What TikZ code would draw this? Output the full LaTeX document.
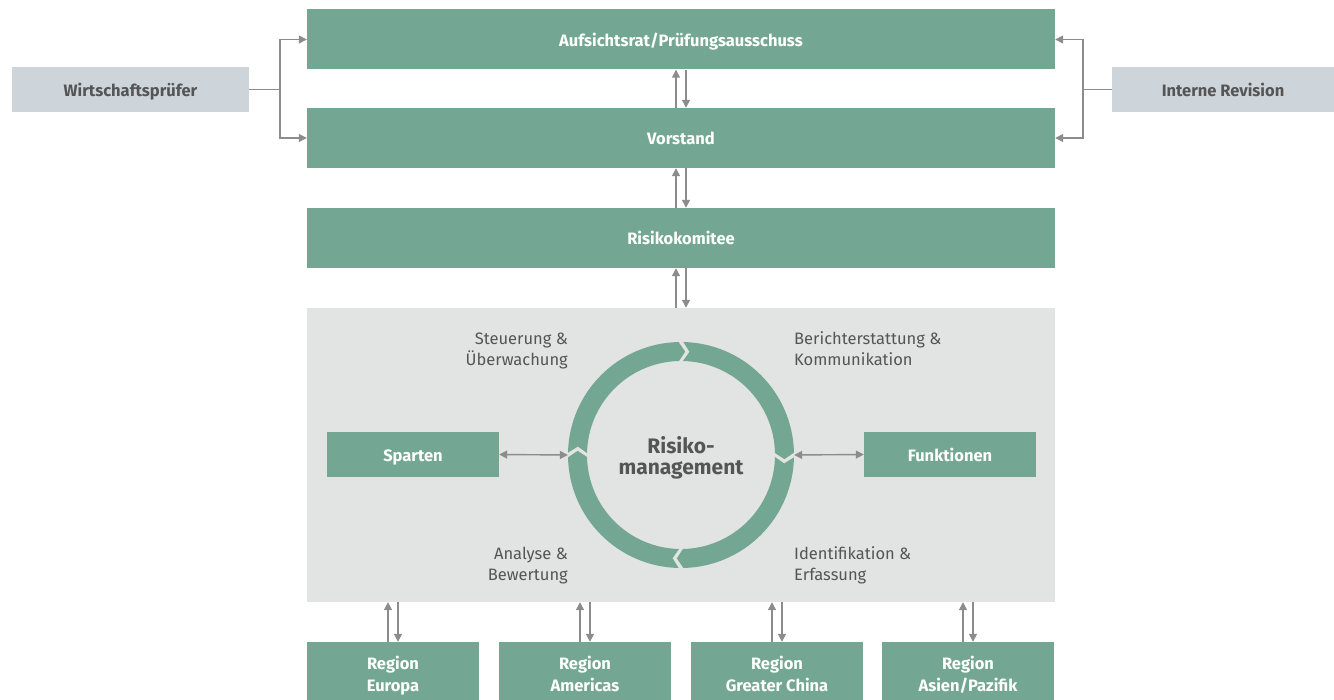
\documentclass[tikz,border=0pt]{standalone}
\usepackage{fontspec}
\setmainfont{Fira Sans}
\usetikzlibrary{arrows.meta,calc}

\definecolor{riskgreen}{RGB}{115,167,148}
\definecolor{areagray}{RGB}{226,227,227}
\definecolor{sidegray}{RGB}{205,212,218}
\definecolor{linegray}{RGB}{140,140,140}
\definecolor{textgray}{RGB}{85,85,85}

\begin{document}
\begin{tikzpicture}[x=1pt, y=-1pt,
    greenbox/.style={fill=riskgreen, text=white, inner sep=0pt, align=center,
        font=\fontsize{16.5}{22}\selectfont\bfseries},
    box/.style={greenbox, text height=15pt, text depth=1.5pt},
    sidebox/.style={fill=sidegray, text=textgray, inner sep=0pt, text height=15pt, text depth=1.5pt,
        minimum height=45pt, font=\fontsize{16.5}{20}\selectfont\bfseries},
    tag/.style={text=textgray, inner sep=0pt, font=\fontsize{16.5}{21}\selectfont},
    conn/.style={draw=linegray, line width=1.4pt},
    tip/.style={conn, -{Triangle[length=8pt,width=8pt]}},
    both/.style={conn, {Triangle[length=8pt,width=8pt]}-{Triangle[length=8pt,width=8pt]}}]

    \useasboundingbox (0,0) rectangle (1334,700);

    % gremien
    \node[box, minimum width=748pt, minimum height=60pt] (auf) at (681,39.5) {Aufsichtsrat/Prüfungsausschuss};
    \node[box, minimum width=748pt, minimum height=60pt] (vor) at (681,138) {Vorstand};
    \node[box, minimum width=748pt, minimum height=60pt] (rk) at (681,238) {Risikokomitee};
    \node[fill=areagray, minimum width=748pt, minimum height=294pt, inner sep=0pt] (area) at (681,455) {};

    \node[sidebox, minimum width=237pt] (wp) at (130.5,89.5) {Wirtschaftsprüfer};
    \node[sidebox, minimum width=222pt] (ir) at (1223,89.5) {Interne Revision};

    \coordinate (wpj) at (280,89.5);
    \coordinate (irj) at (1083,89.5);
    \draw[conn] (wp.east) -- (wpj);
    \draw[tip] (wpj) |- (auf.west);
    \draw[tip] (wpj) |- (vor.west);
    \draw[conn] (ir.west) -- (irj);
    \draw[tip] (irj) |- (auf.east);
    \draw[tip] (irj) |- (vor.east);

    \draw[tip] ($(vor.north)+(-5,0)$) -- ($(auf.south)+(-5,0)$);
    \draw[tip] ($(auf.south)+(5,0)$) -- ($(vor.north)+(5,0)$);
    \draw[tip] ($(rk.north)+(-5,0)$) -- ($(vor.south)+(-5,0)$);
    \draw[tip] ($(vor.south)+(5,0)$) -- ($(rk.north)+(5,0)$);
    \draw[tip] ($(area.north)+(-5,0)$) -- ($(rk.south)+(-5,0)$);
    \draw[tip] ($(rk.south)+(5,0)$) -- ($(area.north)+(5,0)$);

    % kreislauf
    \begin{scope}[shift={(681,455)}, y=1pt]
        \foreach \s in {180,90,0,-90}
            \fill[riskgreen] ({\s-1.2}:113) arc[start angle=\s-1.2, end angle=\s-88.8, radius=113]
                -- ({\s-92.3}:103.5) -- ({\s-88.8}:94)
                arc[start angle=\s-88.8, end angle=\s-1.2, radius=94]
                -- ({\s-4.7}:103.5) -- cycle;
    \end{scope}
    \node[circle, minimum size=226pt, inner sep=0pt] (ring) at (681,455) {};
    \node[align=center, text=textgray, inner sep=0pt,
        font=\fontsize{21}{21}\selectfont\bfseries] (rmtext) at ($(ring.center)+(0,3)$) {Risiko-\\management};

    \node[tag, anchor=east, align=right] (steu) at (568,350.5) {Steuerung \&\\Überwachung};
    \node[tag, anchor=west, align=left] (ber) at (794,348.5) {Berichterstattung \&\\Kommunikation};
    \node[tag, anchor=east, align=right] (ana) at (568,565.5) {Analyse \&\\Bewertung};
    \node[tag, anchor=west, align=left] (ide) at (794,565.5) {Identifikation \&\\Erfassung};

    \node[box, minimum width=172pt, minimum height=45pt] (sparten) at (413,454.5) {Sparten};
    \node[box, minimum width=172pt, minimum height=45pt] (funk) at (950,454.5) {Funktionen};
    \draw[both] (sparten.east) -- (ring.west);
    \draw[both] (ring.east) -- (funk.west);

    % regionen
    \foreach \name/\x/\txt in {eu/393/Europa, am/585/Americas, gc/777/Greater China, ap/968/{Asien/Pazifik}} {
        \node[greenbox, minimum width=172pt, minimum height=68pt] (r\name) at (\x,676) {\strut Region\\\strut\txt};
        \draw[tip] ($(r\name.north)+(-5,0)$) -- ($(r\name.north |- area.south)+(-5,0)$);
        \draw[tip] ($(r\name.north |- area.south)+(5,0)$) -- ($(r\name.north)+(5,0)$);
    }
\end{tikzpicture}
\end{document}
